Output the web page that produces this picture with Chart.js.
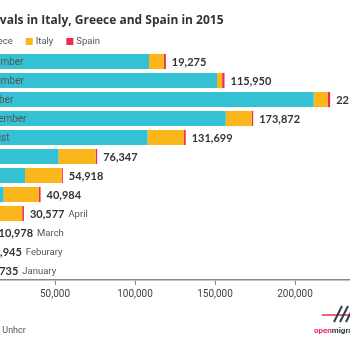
<!DOCTYPE html>
<html>
<head>
<meta charset="utf-8">
<script src="https://cdn.jsdelivr.net/npm/chart.js@4.4.0/dist/chart.umd.min.js"></script>
<style>
  body { margin: 0; width: 350px; height: 350px; overflow: hidden; background: #fff; position: relative; }
  #chart { position: absolute; left: -80px; top: 0; }
</style>
</head>
<body>
<canvas id="chart" width="490" height="350"></canvas>
<script>
// monthly sea arrivals, 2015 (most recent month first)
const months = ["December", "November", "October", "September", "August", "July", "June", "May", "April", "March", "Feburary", "January"];
const greece = [108742, 151249, 211663, 156700, 107843, 52200, 31300, 17900, 13500, 7900, 2900, 1700];
const italy = [9286, 3219, 8916, 16250, 22800, 23200, 22900, 21900, 16000, 2300, 4354, 3528];
const spain = [1247, 1482, 1400, 922, 1056, 947, 718, 1184, 1077, 778, 691, 507];
const totalLabels = ["19,275", "115,950", "221,979", "173,872", "131,699", "76,347", "54,918", "40,984", "30,577", "10,978", "7,945", "5,735"];
const xTicks = [0, 50000, 100000, 150000, 200000, 250000];

const titleText = "Arrivals in Italy, Greece and Spain in 2015";
const sourceText = "Source: Unhcr";

const colors = {
  greece: "#33c1d3",
  italy: "#fbb61b",
  spain: "#ee2a4d"
};

// title, legend, value labels, month names and footer
const annotate = {
  id: "annotate",
  afterDatasetsDraw(chart) {
    const ctx = chart.ctx;
    const area = chart.chartArea;
    const x = chart.scales.x;
    const y = chart.scales.y;

    ctx.save();
    ctx.textBaseline = "middle";

    // title
    ctx.fillStyle = "#333";
    ctx.font = "bold 12px 'Open Sans'";
    ctx.textAlign = "left";
    ctx.fillText(titleText, area.left + 2, 20.5);

    // legend
    ctx.font = "9.5px Roboto";
    let lx = area.left - 2;
    chart.data.datasets.forEach(ds => {
      ctx.fillStyle = ds.backgroundColor;
      ctx.fillRect(lx, 38, 7, 7);
      ctx.fillStyle = "#555";
      ctx.fillText(ds.label, lx + 10, 41.5);
      lx += 10 + ctx.measureText(ds.label).width + 13;
    });

    // totals and months
    months.forEach((m, i) => {
      const total = greece[i] + italy[i] + spain[i];
      const end = x.getPixelForValue(total);
      const cy = y.getPixelForValue(i);
      ctx.fillStyle = "#333";
      ctx.font = "bold 11px Lato";
      ctx.fillText(totalLabels[i], end + 6, cy + 0.5);
      const w = ctx.measureText(totalLabels[i]).width;
      ctx.fillStyle = "#555";
      if (end - area.left > 60) {
        ctx.font = "10px Roboto";
        ctx.fillText(m, area.left + 3, cy + 0.5);
      } else {
        ctx.font = "9.5px Roboto";
        ctx.fillText(m, end + 6 + w + 4, cy + 1);
      }
    });

    // footer
    ctx.fillStyle = "#555";
    ctx.font = "9px Roboto";
    ctx.fillText(sourceText, area.left - 5, 331);

    // logo (runs off the right edge)
    const lr = 80 + 350;
    ctx.strokeStyle = "#ee2a4d";
    ctx.lineWidth = 1.5;
    ctx.beginPath();
    ctx.moveTo(lr - 28, 315);
    ctx.lineTo(lr + 20, 315);
    ctx.stroke();
    ctx.strokeStyle = "#2b3a42";
    ctx.lineWidth = 2;
    for (let k = 0; k < 5; k++) {
      const sx = lr - 16 + k * 6;
      ctx.beginPath();
      ctx.moveTo(sx, 322);
      ctx.lineTo(sx + 8, 306);
      ctx.stroke();
    }
    ctx.font = "bold 8px Roboto";
    ctx.fillStyle = "#ee2a4d";
    ctx.fillText("open", lr - 36, 331);
    const ow = ctx.measureText("open").width;
    ctx.fillStyle = "#2b3a42";
    ctx.fillText("migration", lr - 36 + ow, 331);
    ctx.restore();
  }
};

new Chart(document.getElementById("chart"), {
  type: "bar",
  data: {
    labels: months,
    datasets: [
      { label: "Greece", data: greece, backgroundColor: colors.greece },
      { label: "Italy", data: italy, backgroundColor: colors.italy },
      { label: "Spain", data: spain, backgroundColor: colors.spain }
    ]
  },
  options: {
    indexAxis: "y",
    responsive: false,
    animation: false,
    layout: { padding: { left: 55, right: 35, top: 52, bottom: 47 } },
    datasets: {
      bar: { categoryPercentage: 1, barPercentage: 0.8 }
    },
    plugins: {
      legend: { display: false },
      title: { display: false },
      tooltip: { enabled: false }
    },
    scales: {
      x: {
        stacked: true,
        min: 0,
        max: 250000,
        afterBuildTicks: axis => { axis.ticks = xTicks.map(v => ({ value: v })); },
        ticks: {
          color: "#444",
          font: { family: "Roboto", size: 10 },
          padding: 3,
          callback: v => v.toLocaleString("en-US")
        },
        grid: { drawOnChartArea: false, color: "#888", tickLength: 5 },
        border: { display: true, color: "#888", width: 1.5 }
      },
      y: {
        stacked: true,
        display: false
      }
    }
  },
  plugins: [annotate]
});
</script>
</body>
</html>
